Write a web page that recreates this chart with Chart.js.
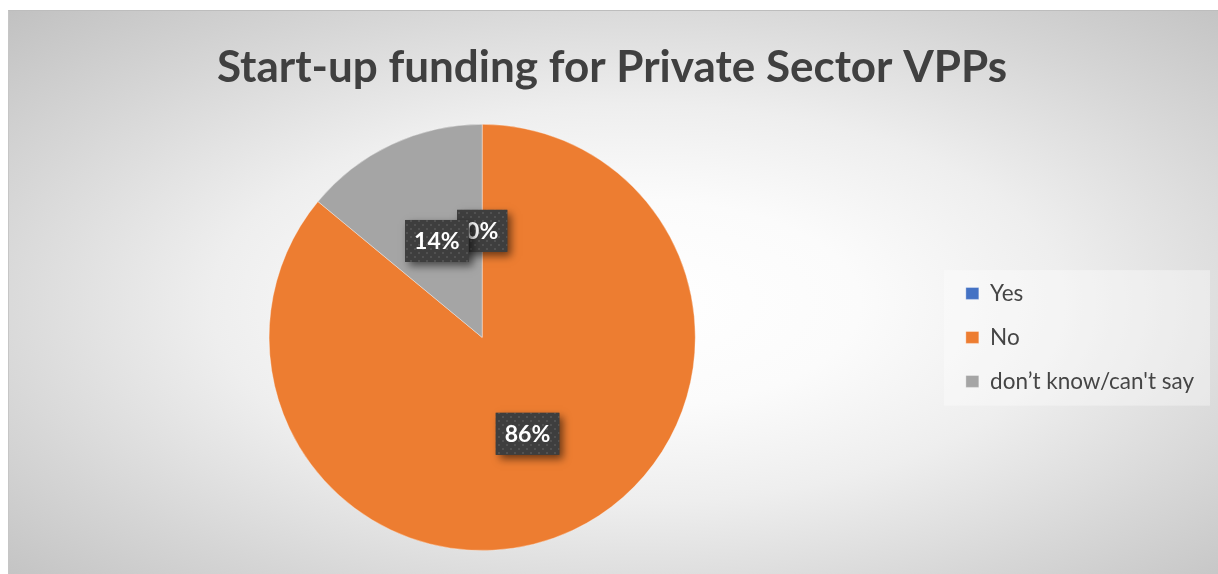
<!DOCTYPE html>
<html>
<head>
<meta charset="utf-8">
<script src="https://cdn.jsdelivr.net/npm/chart.js@4"></script>
<style>
  html, body { margin: 0; padding: 0; background: #ffffff; }
  body { width: 1218px; height: 574px; overflow: hidden; position: relative; }
  #panel {
    position: absolute; left: 8px; top: 10px;
    width: 1209px; height: 563px;
    border-top: 1px solid #bdbdbd; border-left: 1px solid #c6c6c6;
    background: radial-gradient(ellipse farthest-corner at 52% 52%,
      #ffffff 0%, #fbfbfb 25%, #eeeeee 48%, #d6d6d6 75%, #c1c1c1 100%);
  }
  canvas { display: block; }
</style>
</head>
<body>
<div id="panel"><canvas id="chart" width="1209" height="563"></canvas></div>
<script>
// Survey answers and their shares (%)
const categories = ['Yes', 'No', 'don\u2019t know/can\'t say'];
const shares = [0, 86, 14];
const sliceColors = ['#4472C4', '#ED7D31', '#A5A5A5'];
const valueLabels = ['0%', '86%', '14%'];
const chartTitle = 'Start-up funding for Private Sector VPPs';

const FONT = 'Lato, "Open Sans", "DejaVu Sans", sans-serif';

// Dark dotted fill used behind the value labels
function makeDotPattern(ctx) {
  const tile = document.createElement('canvas');
  tile.width = 8; tile.height = 8;
  const t = tile.getContext('2d');
  t.fillStyle = '#3e3e3e';
  t.fillRect(0, 0, 8, 8);
  t.fillStyle = 'rgba(255,255,255,0.10)';
  t.fillRect(1, 1, 2, 2);
  t.fillRect(5, 5, 2, 2);
  return ctx.createPattern(tile, 'repeat');
}

// Faint light panel behind the legend entries (painted before the legend itself)
const legendPanel = {
  id: 'legendPanel',
  beforeDraw(chart) {
    const lg = chart.legend;
    if (!lg || !lg.legendHitBoxes || !lg.legendHitBoxes.length) return;
    const boxes = lg.legendHitBoxes;
    const ctx = chart.ctx;
    const top = boxes[0].top - 12;
    const bottom = boxes[boxes.length - 1].top + boxes[boxes.length - 1].height + 13;
    const left = boxes[0].left - 22;
    const right = lg.right + 6;
    ctx.save();
    ctx.fillStyle = 'rgba(255,255,255,0.35)';
    ctx.fillRect(left, top, right - left, bottom - top);
    ctx.restore();
  }
};

// Value labels: white bold text on a dark dotted box with a drop shadow
const valueBoxes = {
  id: 'valueBoxes',
  afterDatasetsDraw(chart) {
    const ctx = chart.ctx;
    const meta = chart.getDatasetMeta(0);
    const pattern = makeDotPattern(ctx);
    ctx.save();
    ctx.font = 'bold 23px ' + FONT;
    meta.data.forEach((arc, i) => {
      const pos = arc.tooltipPosition();
      const text = valueLabels[i];
      const w = ctx.measureText(text).width + 18;
      const h = 42;
      const x = pos.x - w / 2;
      const y = pos.y - h / 2;
      ctx.save();
      ctx.shadowColor = 'rgba(0,0,0,0.55)';
      ctx.shadowBlur = 8;
      ctx.shadowOffsetX = 4;
      ctx.shadowOffsetY = 4;
      ctx.fillStyle = '#3e3e3e';
      ctx.fillRect(x, y, w, h);
      ctx.restore();
      ctx.fillStyle = pattern;
      ctx.fillRect(x, y, w, h);
      ctx.fillStyle = '#ffffff';
      ctx.textAlign = 'center';
      ctx.textBaseline = 'middle';
      ctx.fillText(text, pos.x, pos.y + 1);
    });
    ctx.restore();
  }
};

new Chart(document.getElementById('chart'), {
  type: 'pie',
  data: {
    labels: categories,
    datasets: [{
      data: shares,
      backgroundColor: sliceColors,
      borderColor: 'rgba(255,255,255,0.35)',
      borderWidth: 1
    }]
  },
  options: {
    responsive: false,
    animation: false,
    layout: { padding: { left: 11, right: 14, top: 0, bottom: 23 } },
    plugins: {
      title: {
        display: true,
        text: chartTitle,
        color: '#404040',
        font: { family: FONT, size: 44, weight: 'bold', lineHeight: 1.2 },
        padding: { top: 30, bottom: 30 }
      },
      legend: {
        position: 'right',
        fullSize: false,
        align: 'center',
        labels: {
          color: '#454545',
          font: { family: FONT, size: 22.5 },
          boxWidth: 13,
          boxHeight: 12,
          padding: 21.5
        }
      },
      tooltip: { enabled: false }
    }
  },
  plugins: [legendPanel, valueBoxes]
});
</script>
</body>
</html>
